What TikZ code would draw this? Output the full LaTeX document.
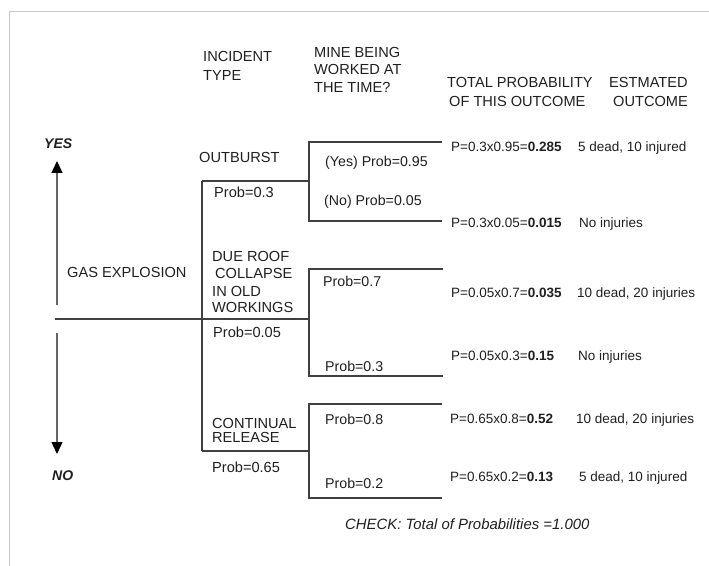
\documentclass[tikz,border=0pt]{standalone}
\usepackage{fontspec}
\setmainfont{Liberation Sans}
\usetikzlibrary{arrows.meta}
\definecolor{linegray}{HTML}{404040}
\definecolor{framegray}{HTML}{C8C8C8}
\tikzset{
  txt/.style={anchor=base west, inner sep=0pt, font=\fontsize{14.6bp}{16bp}\selectfont, text=black!88},
  sub/.style={txt, font=\fontsize{14.2bp}{16bp}\selectfont},
  res/.style={txt, font=\fontsize{13.5bp}{16bp}\selectfont},
  bi/.style={txt, font=\fontsize{14bp}{16bp}\selectfont\bfseries\itshape},
  it/.style={txt, font=\fontsize{14.9bp}{16bp}\selectfont\itshape},
  tree/.style={draw=linegray, line width=1.3bp},
  arr/.style={draw=linegray!80, line width=1.3bp, -{Triangle[width=11bp,length=12bp,color=black]}},
  frame/.style={draw=framegray, line width=1bp}
}
\begin{document}
\begin{tikzpicture}[x=1bp,y=-1bp]
\useasboundingbox (0,0) rectangle (709,566);
% frame
\draw[frame] (709,12) -- (9,12) -- (9,566);

% headers
\node[txt] (h1a) at (203,62) {INCIDENT};
\node[txt] (h1b) at (203,81) {TYPE};
\node[txt] (h2a) at (314,58) {MINE BEING};
\node[txt] (h2b) at (314,75) {WORKED AT};
\node[txt] (h2c) at (314,93) {THE TIME?};
\node[txt] (h3a) at (447,88) {TOTAL PROBABILITY};
\node[txt] (h3b) at (449,107) {OF THIS OUTCOME};
\node[txt] (h4a) at (609,88) {ESTMATED};
\node[txt] (h4b) at (613,107) {OUTCOME};

% yes / no arrows
\node[bi] (yes) at (44,149) {YES};
\node[bi] (no) at (52,480) {NO};
\coordinate (upS) at (57,305);
\coordinate (upT) at (57,161);
\coordinate (dnS) at (57,333);
\coordinate (dnT) at (57,454);
\draw[arr] (upS) -- (upT);
\draw[arr] (dnS) -- (dnT);

% tree coordinates
\coordinate (r0) at (55,319);
\coordinate (j1) at (202,319);
\coordinate (j1t) at (202,181);
\coordinate (j1b) at (202,451);
\coordinate (a) at (309,181);
\coordinate (b) at (309,319);
\coordinate (c) at (309,451);
\coordinate (a1) at (309,142);
\coordinate (a2) at (309,221);
\coordinate (b1) at (309,269);
\coordinate (b2) at (309,376);
\coordinate (c1) at (309,404);
\coordinate (c2) at (309,498);
\coordinate (a1e) at (442,142);
\coordinate (a2e) at (442,221);
\coordinate (b1e) at (443,269);
\coordinate (b2e) at (443,376);
\coordinate (c1e) at (442,404);
\coordinate (c2e) at (442,498);

\draw[tree] (r0) -- (j1) -- (b);
\draw[tree] (j1t) -- (j1b);
\draw[tree] (j1t) -- (a);
\draw[tree] (j1b) -- (c);
\draw[tree] (a1e) -- (a1) -- (a2) -- (a2e);
\draw[tree] (b1e) -- (b1) -- (b2) -- (b2e);
\draw[tree] (c1e) -- (c1) -- (c2) -- (c2e);

% first-level labels
\node[txt] (gas) at (67,277) {GAS EXPLOSION};
\node[txt] (out) at (199,163) {OUTBURST};
\node[txt] (p03) at (214,198) {Prob=0.3};
\node[txt] (dr1) at (212,261) {DUE ROOF};
\node[txt] (dr2) at (215,278) {COLLAPSE};
\node[txt] (dr3) at (212,296) {IN OLD};
\node[txt] (dr4) at (212,312) {WORKINGS};
\node[txt] (p005) at (213,337) {Prob=0.05};
\node[txt] (cr1) at (212,428) {CONTINUAL};
\node[txt] (cr2) at (212,442) {RELEASE};
\node[txt] (p065) at (212,472) {Prob=0.65};

% second-level labels
\node[sub] (sa1) at (325,167) {(Yes) Prob=0.95};
\node[sub] (sa2) at (324,206) {(No) Prob=0.05};
\node[sub] (sb1) at (323,286) {Prob=0.7};
\node[sub] (sb2) at (325,371) {Prob=0.3};
\node[sub] (sc1) at (325,424) {Prob=0.8};
\node[sub] (sc2) at (325,488) {Prob=0.2};

% total probabilities
\node[res] (t1) at (451,152) {P=0.3x0.95=\textbf{0.285}};
\node[res] (t2) at (451,227) {P=0.3x0.05=\textbf{0.015}};
\node[res] (t3) at (451,297) {P=0.05x0.7=\textbf{0.035}};
\node[res] (t4) at (451,360) {P=0.05x0.3=\textbf{0.15}};
\node[res] (t5) at (450,423) {P=0.65x0.8=\textbf{0.52}};
\node[res] (t6) at (450,481) {P=0.65x0.2=\textbf{0.13}};

% outcomes
\node[res] (o1) at (578,152) {5 dead, 10 injured};
\node[res] (o2) at (579,227) {No injuries};
\node[res] (o3) at (577,297) {10 dead, 20 injuries};
\node[res] (o4) at (578,360) {No injuries};
\node[res] (o5) at (576,423) {10 dead, 20 injuries};
\node[res] (o6) at (579,481) {5 dead, 10 injured};

\node[it] (check) at (345,529) {CHECK: Total of Probabilities =1.000};
\end{tikzpicture}
\end{document}
